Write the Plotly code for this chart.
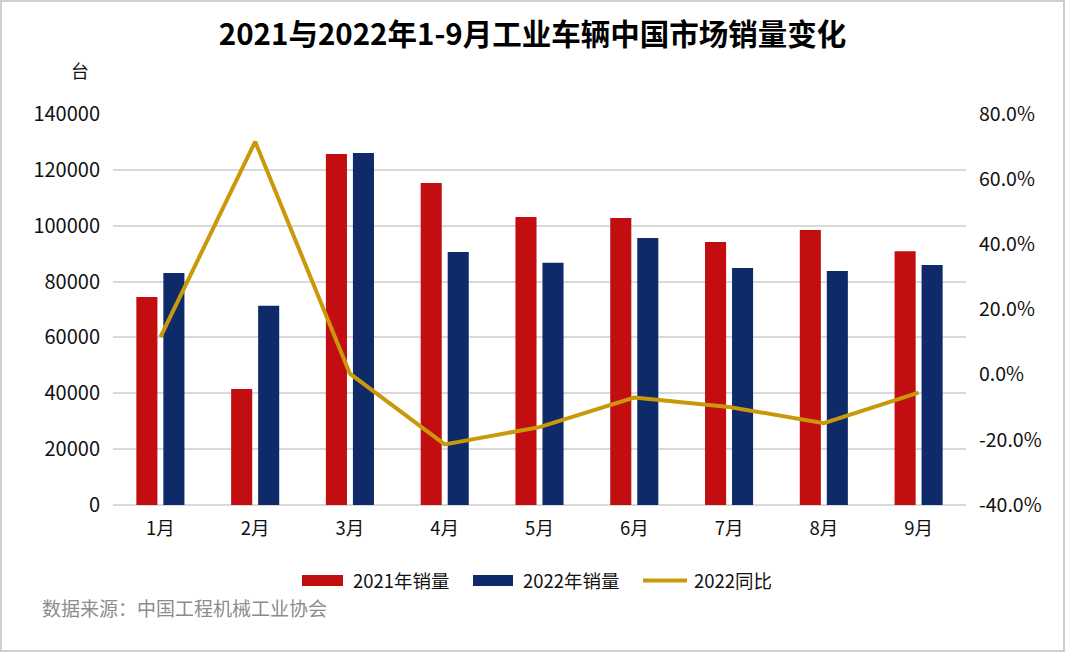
import plotly.graph_objects as go

months = ["1月", "2月", "3月", "4月", "5月", "6月", "7月", "8月", "9月"]
sales_2021 = [74500, 41500, 125700, 115300, 103100, 102800, 94200, 98500, 90900]
sales_2022 = [83100, 71300, 126000, 90600, 86700, 95600, 84900, 83800, 85900]
yoy_2022 = [11.5, 71.5, 0.3, -21.4, -16.1, -7.0, -9.9, -14.9, -5.5]

left_ticks = [0, 20000, 40000, 60000, 80000, 100000, 120000, 140000]
right_ticks = [-40, -20, 0, 20, 40, 60, 80]

names = ["2021年销量", "2022年销量", "2022同比"]
colors = ["#C20E10", "#0E2A69", "#C9990A"]

FONT = "Noto Sans CJK SC, Microsoft YaHei, sans-serif"
W, H = 1065, 652
L, R, T, B = 113, 99, 114, 147
PW, PH = W - L - R, H - T - B


def px(x):
    return (x - L) / PW


def py(y):
    return (H - B - y) / PH


fig = go.Figure()
fig.add_trace(go.Bar(x=months, y=sales_2021, name=names[0], marker_color=colors[0],
                     marker_line_width=0))
fig.add_trace(go.Bar(x=months, y=sales_2022, name=names[1], marker_color=colors[1],
                     marker_line_width=0))
fig.add_trace(go.Scatter(x=months, y=yoy_2022, name=names[2], mode="lines",
                         line=dict(color=colors[2], width=4), yaxis="y2"))

fig.update_layout(
    width=W, height=H,
    paper_bgcolor="white", plot_bgcolor="white",
    font=dict(family=FONT, size=18, color="#111111"),
    margin=dict(l=L, r=R, t=T, b=B, autoexpand=False),
    title=dict(text="<b>2021与2022年1-9月工业车辆中国市场销量变化</b>",
               x=0.5, xanchor="center", y=1 - 35 / H, yanchor="middle",
               font=dict(size=29.5, color="#000000", family=FONT)),
    barmode="group", bargap=0.43, bargroupgap=0.22,
    xaxis=dict(showgrid=False, ticks="", tickfont=dict(size=18.5), showline=False,
               ticklabelstandoff=10),
    yaxis=dict(range=[0, 140000], tickvals=left_ticks, ticktext=[str(v) for v in left_ticks],
               showgrid=True, gridcolor="#D9D9D9", gridwidth=2, zeroline=True,
               zerolinecolor="#D9D9D9", zerolinewidth=2, tickfont=dict(size=20),
               ticklabelstandoff=12),
    yaxis2=dict(range=[-40, 80], tickvals=right_ticks, ticktext=[f"{v:.1f}%" for v in right_ticks],
                overlaying="y", side="right", showgrid=False, zeroline=False,
                tickfont=dict(size=19.5), ticklabelstandoff=12),
    showlegend=False,
)

# custom legend
fig.add_shape(type="rect", xref="paper", yref="paper", x0=px(302), x1=px(343),
              y0=py(586), y1=py(575), fillcolor=colors[0], line=dict(width=0))
fig.add_shape(type="rect", xref="paper", yref="paper", x0=px(473), x1=px(513),
              y0=py(586), y1=py(575), fillcolor=colors[1], line=dict(width=0))
fig.add_shape(type="line", xref="paper", yref="paper", x0=px(643), x1=px(687),
              y0=py(580.5), y1=py(580.5), line=dict(color=colors[2], width=4))
for name, xpos in zip(names, [351, 521, 692]):
    fig.add_annotation(text=name, xref="paper", yref="paper", x=px(xpos), y=py(580),
                       xanchor="left", yanchor="middle", showarrow=False,
                       font=dict(size=18.5, color="#111111"))

fig.add_annotation(text="台", xref="paper", yref="paper", x=px(80), y=py(70),
                   xanchor="center", yanchor="middle", showarrow=False, font=dict(size=18))
fig.add_annotation(text="数据来源：中国工程机械工业协会", xref="paper", yref="paper",
                   x=px(40), y=py(607), xanchor="left", yanchor="middle", showarrow=False,
                   font=dict(size=19, color="#8C8C8C"))
fig.add_shape(type="rect", xref="paper", yref="paper", x0=px(1), x1=px(1064),
              y0=py(651), y1=py(1), line=dict(color="#CFCFCF", width=2),
              fillcolor="rgba(0,0,0,0)")

fig.write_html("out.html", config={"displayModeBar": False},
               post_script="document.body.style.margin='0';document.body.style.overflow='hidden';")
